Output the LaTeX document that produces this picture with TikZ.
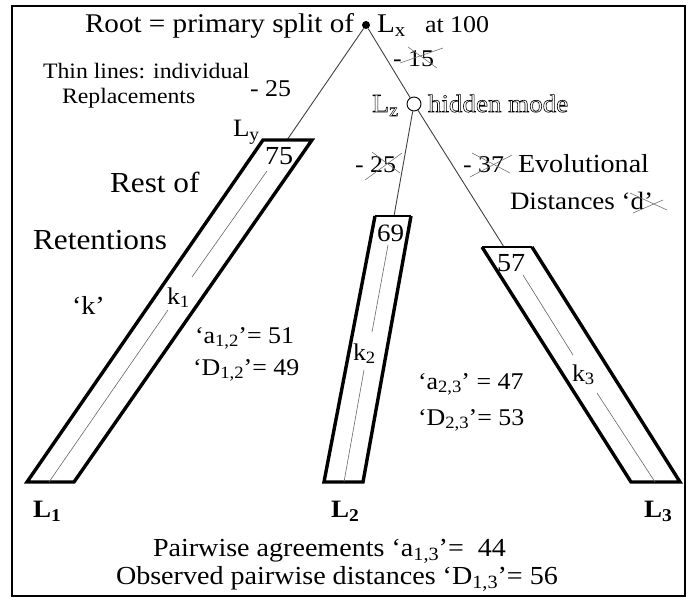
\documentclass[tikz,border=0pt]{standalone}
\usepackage{fontspec}
\setmainfont{Liberation Serif}[FakeStretch=1.08]
\usepackage{graphicx}
\newcommand\sbs[1]{\raisebox{-0.35ex}{\scalebox{0.72}{#1}}}
\newcommand\fs[1]{\fontsize{#1}{#1}\selectfont}
\newcommand\hollowtxt[1]{\special{pdf:literal direct 1 Tr 0.6 w}#1\special{pdf:literal direct 0 Tr}}
\tikzset{
  lbl/.style={inner sep=0pt, outer sep=0pt, anchor=base west},
  barline/.style={line width=3.4pt, line join=miter},
  bartop/.style={line width=1.5pt},
  branch/.style={line width=0.9pt, draw=black!75},
  innerline/.style={line width=0.6pt, draw=black!60},
  xmark/.style={line width=0.6pt, draw=black!55},
  frameline/.style={line width=1.4pt}
}
\begin{document}
\begin{tikzpicture}[x=1pt,y=-1pt]
\useasboundingbox (0,0) rectangle (694,600);
\draw[frameline] (12,6) rectangle (685,596);

% nodes of the tree
\node[circle, fill=black, inner sep=0pt, minimum size=8pt] (rt) at (366,25) {};
\node[circle, draw=black, line width=0.9pt, fill=white, inner sep=0pt, minimum size=14pt] (lz) at (414,104) {};

% bar corners
\coordinate (b1tl) at (263,140); \coordinate (b1tr) at (312,140);
\coordinate (b1bl) at (27,482);  \coordinate (b1br) at (74,482);
\coordinate (b2tl) at (375,216); \coordinate (b2tr) at (411,216);
\coordinate (b2bl) at (324,482); \coordinate (b2br) at (363,482);
\coordinate (b3tl) at (482,247); \coordinate (b3tr) at (532,247);
\coordinate (b3bl) at (631,482); \coordinate (b3br) at (680,482);
\coordinate (t1) at (287,140); \coordinate (t2) at (394,216); \coordinate (t3) at (504,247);

% branches
\draw[branch] (rt) -- (t1);
\draw[branch] (rt) -- (lz);
\draw[branch] (lz) -- (t2);
\draw[branch] (lz) -- (t3);

% bars
\draw[barline] (b1tl) -- (b1bl) -- (b1br) -- (b1tr) -- cycle;
\draw[barline] (b2tl) -- (b2bl) -- (b2br) -- (b2tr);
\draw[bartop] (b2tl) -- (b2tr);
\draw[barline] (b3tl) -- (b3bl) -- (b3br) -- (b3tr);
\draw[bartop] (b3tl) -- (b3tr);

% inner lines
\coordinate (i1a) at (267,171); \coordinate (i1b) at (192,277);
\coordinate (i1c) at (168,310); \coordinate (i1d) at (49,482);
\coordinate (i2a) at (388,245); \coordinate (i2b) at (372,332);
\coordinate (i2c) at (364,370); \coordinate (i2d) at (344,482);
\coordinate (i3a) at (523,275); \coordinate (i3b) at (573,355);
\coordinate (i3c) at (597,393); \coordinate (i3d) at (655,482);
\draw[innerline] (i1a) -- (i1b);
\draw[innerline] (i1c) -- (i1d);
\draw[innerline] (i2a) -- (i2b);
\draw[innerline] (i2c) -- (i2d);
\draw[innerline] (i3a) -- (i3b);
\draw[innerline] (i3c) -- (i3d);

% texts
\node[lbl, font=\fs{27}] (roottxt) at (85,32) {Root = primary split of};
\node[lbl, font=\fs{27}] (lx) at (377,32) {L\sbs{x}};
\node[lbl, font=\fs{24}] (at100) at (425,32) {at 100};
\node[lbl, font=\fs{22}] (thin) at (43,78) {Thin lines: individual};
\node[lbl, font=\fs{22}] (repl) at (62,103) {Replacements};
\node[lbl, font=\fs{24}] (m25a) at (250,96) {- 25};
\node[lbl, font=\fs{25}] (ly) at (233,136) {L\sbs{y}};
\node[lbl, font=\fs{26}] (n75) at (265,164) {75};
\node[lbl, font=\fs{29}] (rest) at (110,192) {Rest of};
\node[lbl, font=\fs{29}] (reten) at (33,249) {Retentions};
\node[lbl, font=\fs{26}] (kq) at (72,314) {`k'};
\node[lbl, font=\fs{24}] (k1) at (167,304) {k\sbs{1}};
\node[lbl, font=\fs{24}] (a12) at (195,343) {`a\sbs{1,2}'= 51};
\node[lbl, font=\fs{24}] (d12) at (193,375) {`D\sbs{1,2}'= 49};
\node[lbl, font=\fs{24}] (m15) at (393,66) {- 15};
\node[lbl, font=\fs{26}] (lzt) at (372,112) {\hollowtxt{L\sbs{z}}};
\node[lbl, font=\fs{25}] (hid) at (428,112) {\hollowtxt{hidden mode}};
\node[lbl, font=\fs{24}] (m25b) at (355,172) {- 25};
\node[lbl, font=\fs{24}] (m37) at (463,172) {- 37};
\node[lbl, font=\fs{26}] (evo) at (518,172) {Evolutional};
\node[lbl, font=\fs{25}] (dist) at (510,209) {Distances `d'};
\node[lbl, font=\fs{25}] (n69) at (377,241) {69};
\node[lbl, font=\fs{26}] (n57) at (497,271) {57};
\node[lbl, font=\fs{24}] (k2) at (353,360) {k\sbs{2}};
\node[lbl, font=\fs{24}] (k3) at (572,381) {k\sbs{3}};
\node[lbl, font=\fs{24}] (a23) at (418,389) {`a\sbs{2,3}' = 47};
\node[lbl, font=\fs{24}] (d23) at (418,425) {`D\sbs{2,3}'= 53};
\node[lbl, font=\bfseries\fs{25}] (l1) at (33,517) {L\sbs{1}};
\node[lbl, font=\bfseries\fs{25}] (l2) at (331,517) {L\sbs{2}};
\node[lbl, font=\bfseries\fs{25}] (l3) at (644,517) {L\sbs{3}};
\node[lbl, font=\fs{26}] (pw) at (153,556) {Pairwise agreements `a\sbs{1,3}'= \ 44};
\node[lbl, font=\fs{26}] (obs) at (116,584) {Observed pairwise distances `D\sbs{1,3}'= 56};

% crossing-out marks
\coordinate (x1a) at (408,47); \coordinate (x1b) at (437,68);
\coordinate (x1c) at (400,63); \coordinate (x1d) at (443,48);
\draw[xmark] (x1a) -- (x1b); \draw[xmark] (x1c) -- (x1d);
\coordinate (x2a) at (372,152); \coordinate (x2b) at (400,173);
\coordinate (x2c) at (365,180); \coordinate (x2d) at (402,153);
\draw[xmark] (x2a) -- (x2b); \draw[xmark] (x2c) -- (x2d);
\coordinate (x3a) at (472,153); \coordinate (x3b) at (510,173);
\coordinate (x3c) at (470,177); \coordinate (x3d) at (512,155);
\draw[xmark] (x3a) -- (x3b); \draw[xmark] (x3c) -- (x3d);
\coordinate (x4a) at (630,193); \coordinate (x4b) at (667,210);
\coordinate (x4c) at (633,213); \coordinate (x4d) at (663,200);
\draw[xmark] (x4a) -- (x4b); \draw[xmark] (x4c) -- (x4d);
\end{tikzpicture}
\end{document}
